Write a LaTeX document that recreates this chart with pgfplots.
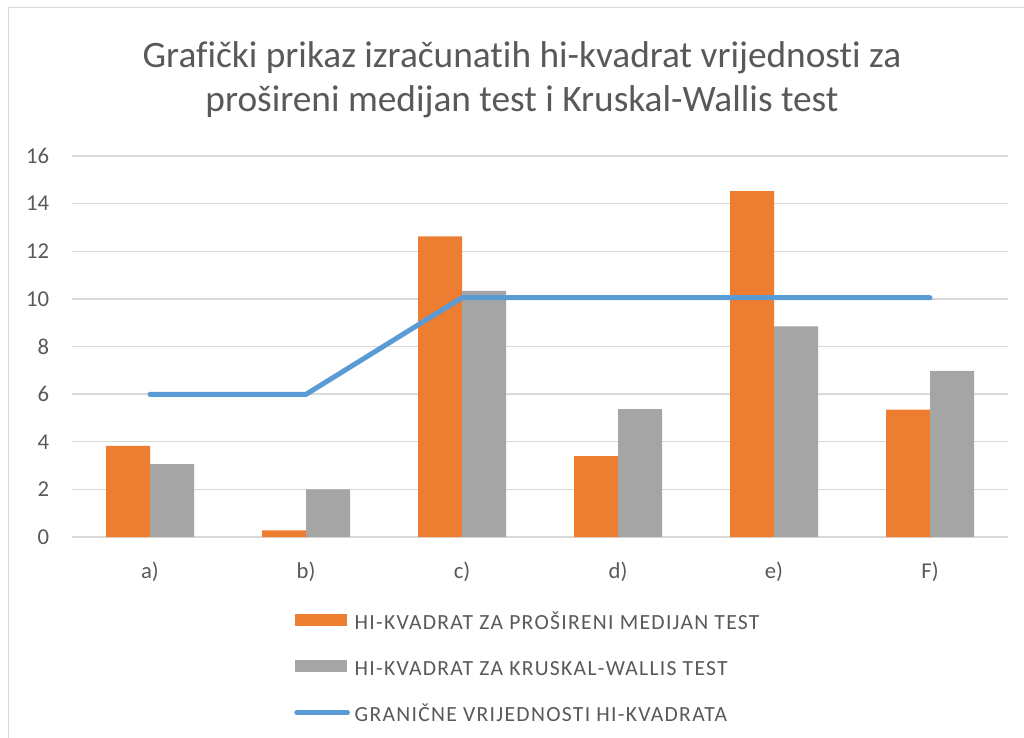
\documentclass[border=0pt]{standalone}
\usepackage{pgfplots}
\pgfplotsset{compat=1.18}
\usepackage{fontspec}
\setmainfont{Carlito}[Ligatures=NoCommon]
\definecolor{txt}{HTML}{595959}
\definecolor{orangeS}{HTML}{ED7D31}
\definecolor{grayS}{HTML}{A5A5A5}
\definecolor{blueS}{HTML}{5B9BD5}
\definecolor{gridc}{HTML}{D9D9D9}
\newcommand\lstrut{\rule[-3pt]{0pt}{18pt}}
\begin{document}
\begin{tikzpicture}
\useasboundingbox (0pt,0pt) rectangle (768pt,-553.5pt);
\draw[gridc, line width=0.75pt] (6pt,-560pt) -- (6pt,-6pt) -- (775pt,-6pt);
\node[anchor=base, text=txt, font=\fontsize{28}{32}\selectfont, inner sep=0pt] at (391.5pt,-50.5pt) {Grafički prikaz izračunatih hi-kvadrat vrijednosti za};
\node[anchor=base, text=txt, font=\fontsize{28}{32}\selectfont, inner sep=0pt] at (391.5pt,-84pt) {prošireni medijan test i Kruskal-Wallis test};
\begin{axis}[
  at={(54pt,-402.75pt)}, anchor=south west,
  scale only axis, width=702pt, height=285.75pt,
  xmin=-0.5, xmax=5.5, ymin=0, ymax=16,
  ytick={0,2,...,16},
  xtick={0,1,2,3,4,5},
  xticklabels={a),b),c),d),e),F)},
  /pgf/number format/assume math mode=true,
  axis line style={draw=none},
  tick style={draw=none},
  ymajorgrids,
  grid style={gridc, line width=1pt},
  yticklabel style={font=\fontsize{17}{20}\selectfont, text=txt, anchor=east, inner sep=0pt, xshift=-17pt},
  xticklabel style={font=\fontsize{17}{20}\selectfont, text=txt, anchor=north, inner sep=0pt, yshift=-18.5pt},
  clip=false,
  legend style={at={(rel axis cs:0.2372,-0.1895)}, anchor=north west, draw=none, fill=none,
    inner sep=0pt, row sep=18pt, column sep=3.5pt,
    font=\fontsize{16.2}{18}\selectfont\addfontfeature{LetterSpace=6}, text=txt, nodes={inner sep=0pt}},
  legend cell align=left,
]
\addplot[ybar, bar width=33pt, bar shift=-16.5pt, fill=orangeS, draw=none,
  legend image code/.code={\fill[orangeS] (0pt,-4.5pt) rectangle (39pt,4.5pt);}]
  coordinates {(0,3.83) (1,0.28) (2,12.63) (3,3.40) (4,14.53) (5,5.35)};
\addlegendentry{\lstrut HI-KVADRAT ZA PROŠIRENI MEDIJAN TEST}
\addplot[ybar, bar width=33pt, bar shift=16.5pt, fill=grayS, draw=none,
  legend image code/.code={\fill[grayS] (0pt,-4.5pt) rectangle (39pt,4.5pt);}]
  coordinates {(0,3.06) (1,2.00) (2,10.34) (3,5.37) (4,8.85) (5,6.98)};
\addlegendentry{\lstrut HI-KVADRAT ZA KRUSKAL-WALLIS TEST}
\addplot[blueS, line width=3.75pt, line cap=round, line join=round, sharp plot, mark=none,
  legend image code/.code={\draw[blueS, line width=3.75pt, line cap=round] (1.5pt,0pt) -- (39.5pt,0pt);}]
  coordinates {(0,5.99) (1,5.99) (2,10.05) (3,10.05) (4,10.05) (5,10.05)};
\addlegendentry{\lstrut GRANIČNE VRIJEDNOSTI HI-KVADRATA}
\end{axis}
\end{tikzpicture}
\end{document}
